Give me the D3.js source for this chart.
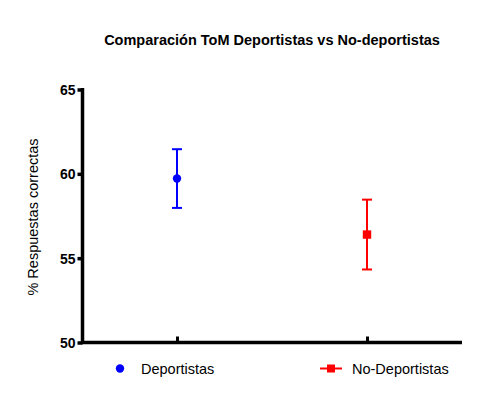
<!DOCTYPE html>
<html><head><meta charset="utf-8">
<script src="https://cdn.jsdelivr.net/npm/d3@7"></script>
<style>body{margin:0;background:#fff}</style>
</head><body>
<svg id="c" width="497" height="403"></svg>
<script>
const categories = ["Deportistas", "No-Deportistas"];
const means = [59.72, 56.4];
const errors = [1.74, 2.07];
const colors = ["#0000ff", "#ff0000"];
const shapes = ["circle", "square"];
const yTicks = [50, 55, 60, 65];
const title = "Comparación ToM Deportistas vs No-deportistas";
const yLabel = "% Respuestas correctas";

const svg = d3.select("#c");
const font = "Arial, 'Liberation Sans', sans-serif";

const x = d3.scalePoint().domain(categories).range([177, 367]);
const y = d3.scaleLinear().domain([50, 65]).range([342.5, 89.5]);

// Title
svg.append("text").attr("x", 272).attr("y", 45).attr("text-anchor", "middle")
  .attr("font-family", font).attr("font-weight", "bold").attr("font-size", 14.5)
  .text(title);

// Y axis
const yAxis = svg.append("g").attr("transform", "translate(82.5,0)")
  .call(d3.axisLeft(y).tickValues(yTicks).tickSize(5).tickPadding(2).tickFormat(d3.format("d")));
yAxis.select(".domain").attr("stroke", "#000").attr("stroke-width", 3.5)
  .attr("d", `M0,${y(65)-1.5}V${y(50)+1.5}`);
yAxis.selectAll(".tick line").attr("stroke-width", 3.5);
yAxis.selectAll(".tick text").attr("font-family", font).attr("font-weight", "bold")
  .attr("font-size", 14).attr("fill", "#000").attr("dy", "0.36em");

// X axis
const xAxis = svg.append("g").attr("transform", `translate(0,${y(50)})`)
  .call(d3.axisBottom(x).tickSize(-6).tickFormat(""));
xAxis.select(".domain").attr("stroke", "#000").attr("stroke-width", 3.5)
  .attr("d", `M81,0H462`);
xAxis.selectAll(".tick line").attr("stroke-width", 3);

// Y label
svg.append("text").attr("transform", "translate(38,217) rotate(-90)")
  .attr("text-anchor", "middle").attr("font-family", font).attr("font-size", 14.5)
  .text(yLabel);

// Error bars
const g = svg.append("g");
categories.forEach((c, i) => {
  const cx = x(c), col = colors[i];
  const top = y(means[i] + errors[i]), bot = y(means[i] - errors[i]);
  g.append("line").attr("x1", cx).attr("x2", cx).attr("y1", top).attr("y2", bot)
    .attr("stroke", col).attr("stroke-width", 2);
  [top, bot].forEach(yy => g.append("line").attr("x1", cx - 5).attr("x2", cx + 5)
    .attr("y1", yy).attr("y2", yy).attr("stroke", col).attr("stroke-width", 2));
  if (shapes[i] === "circle") {
    g.append("circle").attr("cx", cx).attr("cy", y(means[i])).attr("r", 4.2).attr("fill", col);
  } else {
    g.append("rect").attr("x", cx - 4.2).attr("y", y(means[i]) - 4.2)
      .attr("width", 8.4).attr("height", 8.4).attr("fill", col);
  }
});

// Legend
const legX = [120, 331];
categories.forEach((c, i) => {
  const lx = legX[i], ly = 368.5, col = colors[i];
  if (shapes[i] === "circle") {
    svg.append("circle").attr("cx", lx).attr("cy", ly).attr("r", 4.2).attr("fill", col);
  } else {
    svg.append("line").attr("x1", lx - 11).attr("x2", lx + 11).attr("y1", ly).attr("y2", ly)
      .attr("stroke", col).attr("stroke-width", 2);
    svg.append("rect").attr("x", lx - 4).attr("y", ly - 4).attr("width", 8).attr("height", 8).attr("fill", col);
  }
  svg.append("text").attr("x", lx + 21).attr("y", ly + 5.3)
    .attr("font-family", font).attr("font-size", 14.5).text(c);
});
</script>
</body></html>
